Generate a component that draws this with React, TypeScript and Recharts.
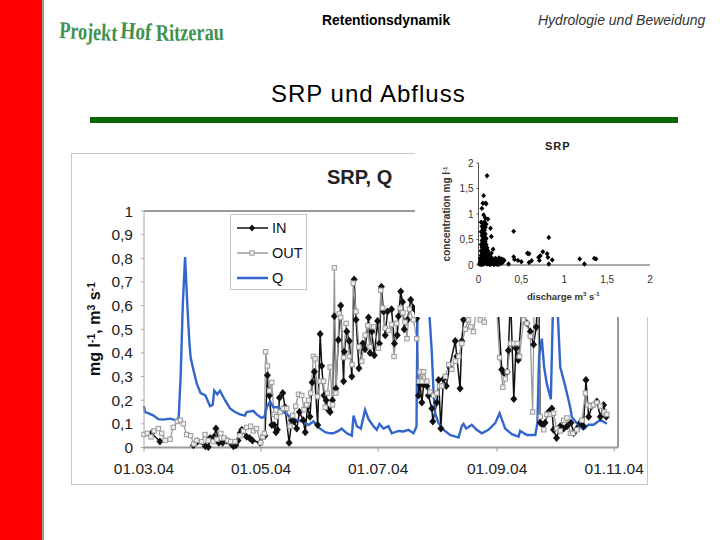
import React from "react";
import {
  ComposedChart, Line, XAxis, YAxis, ReferenceLine, Legend,
  ScatterChart, Scatter,
} from "recharts";

const FONT = "'Liberation Sans', Arial, sans-serif";
const AXIS_GREY = "#9a9a9a";

const xTickDays = [0, 61, 122, 184, 245];
const xTickLabels = ["01.03.04", "01.05.04", "01.07.04", "01.09.04", "01.11.04"];
const yTicks = [0, 0.1, 0.2, 0.3, 0.4, 0.5, 0.6, 0.7, 0.8, 0.9, 1];

const inDays = [4, 8.3, null, 25.7, 28, 32, 33.5, 34.4, 36.5, 37.5, 39, 41, 43, 45, 46.6, 47.8, 49, 50, 51, 53.5, 55, 56.5, 60.5, 63, 64.3, 65.3, 66.6, 67.8, 68.8, 69.5, 70.6, 72.3, 73.5, 75.6, 77, 78.2, 79.6, 81, 83, 84, 85.2, 86.5, 87.6, 88.8, 90.5, 91.8, 92.6, 93.8, 94.9, 96, 97, 98.2, 99.2, 100, 101.3, 102.5, 104, 104.4, 105.7, 107, 108.3, 109.5, 110.5, 112, 114, 115.2, 117, 117.8, 118.7, 120, 121.7, 122.7, 123.7, 124.8, 125.7, 126.9, 129, 130.5, 132, 132.6, 133.8, 134.7, 135.6, 137.3, 139, 140.4, 142.1, 143, 143.9, 144.8, 145.7, 147.4, 148.2, 150, 150.5, 152.6, 153.5, 154.7, 156, 157.5, 159.2, 162.2, 163, 164.7, 165.6, 166.5, 169, 172, 175, 178, 181, 184, 186.4, 187.6, 189.3, 189.9, 191, 192.7, 193.8, 195, 197, 199.5, 201.3, 203, 204.4, 205.6, 206.5, 207.8, 209, 210.8, 212.5, 213.4, 215, 216.9, 218.7, 220.4, 222.5, 223.9, 225.6, 227.3, 229, 230.3, 231.7, 233.4, 236, 237.8, 239.5, 240.9];
const inValues = [0.06, 0.025, null, 0.01, 0.025, 0.005, 0.002, 0.04, 0.045, 0.08, 0.02, 0.02, 0.03, 0.02, 0.005, 0.01, 0.03, 0.06, 0.075, 0.045, 0.04, 0.03, 0.02, 0.05, 0.305, 0.22, 0.095, 0.095, 0.065, 0.075, 0.21, 0.23, 0.17, 0.02, 0.115, 0.11, 0.08, 0.15, 0.115, 0.065, 0.17, 0.13, 0.275, 0.32, 0.095, 0.48, 0.345, 0.22, 0.2, 0.16, 0.15, 0.2, 0.555, 0.25, 0.455, 0.6, 0.28, 0.405, 0.49, 0.45, 0.3, 0.71, 0.54, 0.335, 0.44, 0.415, 0.55, 0.4, 0.49, 0.39, 0.535, 0.44, 0.68, 0.575, 0.475, 0.575, 0.585, 0.44, 0.475, 0.555, 0.66, 0.615, 0.5, 0.54, 0.625, 0.59, 0.545, 0.22, 0.265, 0.19, 0.265, 0.26, 0.22, 0.165, 0.11, 0.19, 0.285, 0.08, 0.29, 0.26, 0.34, 0.45, 0.385, 0.25, 0.45, 0.54, 0.68, 0.72, 0.65, 0.7, 0.75, 0.66, 0.33, 0.315, 0.32, 0.41, 0.65, 0.205, 0.42, 0.37, 0.6, 0.525, 0.49, 0.435, 0.51, 0.7, 0.105, 0.095, 0.105, 0.15, 0.165, 0.075, 0.04, 0.09, 0.08, 0.09, 0.105, 0.06, 0.08, 0.105, 0.09, 0.285, 0.13, 0.175, 0.195, 0.13, 0.18, 0.13];

const outDays = [0, 1.7, 3.6, 5.2, 7.5, 9.2, 11, 13.6, 15.3, 17.4, 19, 20.5, 22.2, 24.3, 26, 27.5, 30, 31.8, 33.5, 36, 38, 40, 41.7, 43.6, 45.2, 47.4, 50, 51.8, 53.5, 55.6, 57, 58.7, 60.8, 61.9, 62.7, 63.4, 64.3, 65.3, 66.6, 67.8, 69, 70.9, 72.6, 74.4, 76.1, 77.5, 79, 80.5, 82.2, 83.4, 84.8, 85.7, 86.9, 88.3, 89.2, 90.4, 91.8, 93.5, 94.4, 95.6, 97, 98.2, 99.2, 100, 101.7, 102.5, 104, 105.3, 107, 108.4, 109, 110.5, 112, 113.5, 115.2, 116.6, 117.8, 119.6, 122.2, 123.4, 124.4, 125.7, 127.4, 129, 130.3, 131.7, 133.5, 134.9, 136, 137, 138.3, 140.4, 142.1, 143.4, 143.9, 144.8, 145.7, 147.4, 149.1, 150.9, 152.6, 154, 155.2, 157, 158.8, 160.4, 162.2, 164, 165.6, 167.4, 169.1, 170.3, 171.7, 173.4, 175.2, 177.3, 180, 183, 185.3, 187, 188.3, 189.3, 191, 192.7, 194.5, 195.7, 197.8, 199.5, 201.3, 202.5, 203.3, 205, 206.5, 208.3, 210, 211.8, 213.4, 215, 216.9, 218.7, 220.4, 222.2, 223.5, 225.6, 228.2, 230, 231.2, 232.6, 234.3, 236, 237.8, 239.8, 241.2];
const outValues = [0.055, 0.06, 0.045, 0.07, 0.08, 0.06, 0.03, 0.035, 0.085, 0.11, 0.115, 0.1, 0.055, 0.05, 0.015, 0.03, 0.025, 0.055, 0.03, 0.025, 0.035, 0.06, 0.04, 0.03, 0.025, 0.025, 0.05, 0.07, 0.085, 0.09, 0.07, 0.08, 0.02, 0.045, 0.06, 0.405, 0.345, 0.24, 0.275, 0.14, 0.13, 0.15, 0.165, 0.165, 0.09, 0.135, 0.175, 0.225, 0.22, 0.16, 0.18, 0.2, 0.23, 0.385, 0.375, 0.215, 0.28, 0.28, 0.17, 0.23, 0.34, 0.18, 0.76, 0.23, 0.565, 0.55, 0.38, 0.525, 0.385, 0.35, 0.695, 0.575, 0.425, 0.365, 0.475, 0.515, 0.425, 0.51, 0.42, 0.665, 0.59, 0.505, 0.495, 0.52, 0.385, 0.525, 0.59, 0.57, 0.53, 0.46, 0.585, 0.54, 0.46, 0.28, 0.32, 0.28, 0.32, 0.28, 0.235, 0.22, 0.23, 0.26, 0.26, 0.3, 0.35, 0.33, 0.365, 0.385, 0.44, 0.5, 0.54, 0.51, 0.49, 0.6, 0.54, 0.53, 0.65, 0.7, 0.38, 0.255, 0.29, 0.32, 0.44, 0.44, 0.44, 0.385, 0.54, 0.525, 0.47, 0.15, 0.6, 0.65, 0.13, 0.075, 0.14, 0.14, 0.145, 0.08, 0.07, 0.115, 0.125, 0.06, 0.06, 0.075, 0.115, 0.23, 0.18, 0.175, 0.18, 0.19, 0.175, 0.15, 0.14];

const qDays = [0, 0.5, 2.2, 5, 7.5, 10, 13.6, 17, 18.1, 19.1, 20.2, 21.4, 22.6, 23.6, 24.3, 25.7, 27.5, 29.5, 32, 34.4, 35.8, 36.6, 38.2, 39.6, 42.2, 44.8, 47.4, 50, 52.6, 53.5, 57, 58.7, 61.3, 62.7, 64, 65.7, 67.4, 70, 72.6, 76.1, 79.6, 83, 85.7, 88.3, 90.9, 94.4, 97, 98.7, 101.3, 103, 105.7, 108.3, 109.2, 110.9, 113, 115.2, 117, 119.6, 121.3, 122.7, 124.8, 127.4, 129.1, 132.6, 135.2, 137.8, 140.4, 141.6, 142, 142.5, 143.5, 146, 148.8, 150, 150.9, 151.7, 153.5, 156, 159.5, 163.9, 165.6, 166.5, 167.9, 170.8, 173.4, 176, 179.5, 183, 185.3, 188.2, 191.7, 195.2, 196, 199.5, 203.9, 205, 205.9, 207.3, 208.5, 209.9, 212, 213, 214.3, 215.7, 216.9, 219.5, 222, 222.9, 225.5, 229, 231.6, 234.3, 237.8, 241.2];
const qValues = [0.175, 0.15, 0.145, 0.135, 0.12, 0.118, 0.122, 0.115, 0.13, 0.3, 0.6, 0.805, 0.6, 0.45, 0.38, 0.33, 0.27, 0.23, 0.22, 0.175, 0.18, 0.24, 0.225, 0.24, 0.2, 0.165, 0.15, 0.14, 0.135, 0.15, 0.155, 0.14, 0.125, 0.13, 0.17, 0.195, 0.17, 0.17, 0.15, 0.13, 0.115, 0.11, 0.095, 0.11, 0.085, 0.065, 0.06, 0.06, 0.07, 0.08, 0.06, 0.05, 0.135, 0.09, 0.08, 0.16, 0.12, 0.09, 0.075, 0.1, 0.08, 0.09, 0.06, 0.07, 0.068, 0.075, 0.06, 0.08, 0.09, 0.55, 0.8, 0.75, 0.555, 0.4, 0.23, 0.145, 0.103, 0.075, 0.053, 0.042, 0.09, 0.1, 0.08, 0.096, 0.075, 0.06, 0.075, 0.103, 0.145, 0.08, 0.056, 0.046, 0.07, 0.053, 0.053, 0.103, 0.385, 0.46, 0.34, 0.27, 0.204, 0.555, 0.9, 0.555, 0.34, 0.26, 0.173, 0.13, 0.103, 0.077, 0.096, 0.096, 0.117, 0.1];

const scatterX = [0.1, 0.06, 0.05, 0.08, 0.09, 0.04, 0.06, 0.08, 0.11, 0.41, 0.82, 0.57, 0.59, 0.41, 0.42, 0.46, 0.5, 0.59, 0.62, 0.7, 0.72, 0.71, 0.75, 0.8, 0.81, 0.82, 0.86, 1.18, 1.235, 1.35, 1.37, 0.35, 0.14, 0.15, 0.17, 0.15,
  0.03, 0.05, 0.07, 0.09, 0.04, 0.06, 0.08, 0.05, 0.07, 0.03, 0.06, 0.08, 0.04, 0.05, 0.07, 0.09, 0.06, 0.04, 0.08, 0.05, 0.07, 0.03, 0.06, 0.09, 0.04, 0.07, 0.05, 0.08, 0.1, 0.03, 0.06, 0.04, 0.09, 0.05, 0.07, 0.11, 0.03, 0.06, 0.08, 0.04, 0.12, 0.02, 0.05, 0.07, 0.1, 0.03, 0.06, 0.09, 0.13, 0.02, 0.04, 0.08, 0.05, 0.11, 0.07, 0.01, 0.03, 0.14, 0.09, 0.06, 0.02, 0.12, 0.04, 0.1,
  0.13, 0.15, 0.17, 0.19, 0.21, 0.23, 0.25, 0.27, 0.29, 0.16, 0.18, 0.2, 0.22, 0.24, 0.26, 0.28, 0.14, 0.17, 0.19, 0.21, 0.23, 0.12, 0.15, 0.18, 0.2, 0.24, 0.3, 0.13, 0.16];
const scatterY = [1.75, 1.36, 1.21, 1.21, 1.2, 1.11, 0.98, 0.92, 0.9, 0.66, 0.54, 0.23, 0.22, 0.16, 0.11, 0.09, 0.065, 0.05, 0.085, 0.15, 0.18, 0.09, 0.26, 0.22, 0.15, 0.02, 0.1, 0.12, 0.02, 0.13, 0.12, 0.02, 0.72, 0.56, 0.31, 0.23,
  0.84, 0.82, 0.85, 0.8, 0.76, 0.78, 0.74, 0.71, 0.68, 0.65, 0.63, 0.61, 0.58, 0.55, 0.56, 0.52, 0.5, 0.48, 0.46, 0.44, 0.42, 0.4, 0.38, 0.4, 0.35, 0.33, 0.31, 0.32, 0.34, 0.28, 0.27, 0.25, 0.26, 0.22, 0.23, 0.28, 0.19, 0.18, 0.2, 0.15, 0.22, 0.13, 0.12, 0.14, 0.16, 0.1, 0.09, 0.11, 0.18, 0.07, 0.06, 0.08, 0.04, 0.1, 0.03, 0.02, 0.01, 0.13, 0.05, 0.02, 0.04, 0.06, 0.01, 0.02,
  0.13, 0.15, 0.1, 0.12, 0.09, 0.11, 0.08, 0.12, 0.1, 0.06, 0.05, 0.07, 0.04, 0.06, 0.03, 0.05, 0.08, 0.03, 0.02, 0.02, 0.01, 0.04, 0.02, 0.01, 0.13, 0.14, 0.09, 0.01, 0.04];

const zip = (xs: (number | null)[], ys: (number | null)[], key: string) =>
  xs.map((x, i) => ({ day: x, [key]: ys[i] }));
const inData = zip(inDays, inValues, "inVal").map((d) => ({ ...d, day: d.day ?? 16 }));
const outData = zip(outDays, outValues, "outVal");
const qData = zip(qDays, qValues, "q");
const scatterData = scatterX.map((x, i) => ({ x, y: scatterY[i] }));

const Diamond = (props: any) => {
  const { cx, cy, payload } = props;
  if (cx == null || cy == null || payload?.inVal == null) return <g />;
  return <path d={`M${cx} ${cy - 4}L${cx + 3.5} ${cy}L${cx} ${cy + 4}L${cx - 3.5} ${cy}Z`} fill="#111" />;
};
const Square = (props: any) => {
  const { cx, cy } = props;
  if (cx == null || cy == null) return <g />;
  return <rect x={cx - 2.2} y={cy - 2.2} width={4.4} height={4.4} fill="#eeeeee" stroke="#9a9a9a" strokeWidth={1} />;
};
const SmallDiamond = (props: any) => {
  const { cx, cy } = props;
  if (cx == null || cy == null) return <g />;
  return <path d={`M${cx} ${cy - 2.7}L${cx + 2.4} ${cy}L${cx} ${cy + 2.7}L${cx - 2.4} ${cy}Z`} fill="#000" />;
};

const LegendBox = () => (
  <div style={{ width: 77, height: 76, boxSizing: "border-box", background: "#fff", border: "1px solid #c4c4c4" }}>
    <svg width={75} height={74} style={{ display: "block" }}>
      <line x1={6} x2={37} y1={13} y2={13} stroke="#111" strokeWidth={1.5} />
      <path d="M21 9.5L24 13L21 16.5L18 13Z" fill="#111" />
      <text x={41} y={18} fontFamily={FONT} fontSize={14.5} fill="#111">IN</text>
      <line x1={6} x2={37} y1={38} y2={38} stroke="#9a9a9a" strokeWidth={1.5} />
      <rect x={18.8} y={35.8} width={4.4} height={4.4} fill="#eee" stroke="#9a9a9a" />
      <text x={41} y={43} fontFamily={FONT} fontSize={14.5} fill="#111">OUT</text>
      <line x1={6} x2={37} y1={63} y2={63} stroke="#3366cc" strokeWidth={2.5} />
      <text x={41} y={68} fontFamily={FONT} fontSize={14.5} fill="#111">Q</text>
    </svg>
  </div>
);

const YTitle = () => (
  <text transform="translate(100 329) rotate(-90)" textAnchor="middle" fontFamily={FONT} fontSize={16} fontWeight={700} fill="#111">
    mg l<tspan dy={-5} fontSize={10.5}>-1</tspan><tspan dy={5}>, m</tspan><tspan dy={-5} fontSize={10.5}>3</tspan><tspan dy={5}> s</tspan><tspan dy={-5} fontSize={10.5}>-1</tspan>
  </text>
);

const abs = (left: number, top: number, extra: React.CSSProperties = {}): React.CSSProperties => ({
  position: "absolute", left, top, whiteSpace: "nowrap", fontFamily: FONT, ...extra,
});

export default function App() {
  return (
    <div style={{ position: "absolute", left: 0, top: 0, width: 720, height: 540, background: "#fff", overflow: "hidden" }}>
      <div style={abs(0, 0, { width: 42, height: 540, background: "#ff0000" })} />
      <div style={abs(42, 0, { width: 2, height: 540, background: "#a09a9a" })} />

      <svg style={abs(50, 12)} width={250} height={44}>
        <g fontFamily="'Liberation Serif', serif" fontWeight={700} fill="#3f9150" fontSize={24}>
          <text transform="translate(9 26) rotate(3)" textLength={58} lengthAdjust="spacingAndGlyphs">Projekt</text>
          <text transform="translate(70 26) rotate(4)" textLength={31} lengthAdjust="spacingAndGlyphs">Hof</text>
          <text transform="translate(106 29) rotate(-1)" textLength={68} lengthAdjust="spacingAndGlyphs">Ritzerau</text>
        </g>
      </svg>

      <div style={abs(322, 12, { fontSize: 13.9, fontWeight: 700, color: "#000" })}>Retentionsdynamik</div>
      <div style={abs(538, 12, { fontSize: 14, fontStyle: "italic", color: "#333" })}>Hydrologie und Beweidung</div>
      <div style={abs(271, 80, { fontSize: 24, letterSpacing: 1, color: "#000" })}>SRP und Abfluss</div>
      <div style={abs(90, 117, { width: 588, height: 6, background: "#056405" })} />

      <div style={abs(71, 153, { width: 577, height: 332, boxSizing: "border-box", border: "1.5px solid #c8c8c8" })} />
      <div style={abs(327, 166, { fontSize: 20, fontWeight: 700, color: "#222" })}>SRP, Q</div>

      <div style={abs(0, 0)}>
        <ComposedChart width={720} height={540} margin={{ top: 211, left: 84, right: 102, bottom: 62.5 }}>
          <XAxis
            xAxisId="x" type="number" dataKey="day" domain={[0, 247]} ticks={xTickDays} height={30}
            tickFormatter={(v: number) => xTickLabels[xTickDays.indexOf(v)]}
            tick={{ fontFamily: FONT, fontSize: 15.5, fill: "#222" }} tickSize={4} tickMargin={11}
            axisLine={{ stroke: AXIS_GREY, strokeWidth: 2 }} tickLine={{ stroke: AXIS_GREY }} interval={0}
          />
          <YAxis
            yAxisId="y" type="number" domain={[0, 1]} ticks={yTicks} width={60} interval={0}
            tickFormatter={(v: number) => String(v).replace(".", ",")}
            tick={{ fontFamily: FONT, fontSize: 15.5, fill: "#222" }} tickSize={3} tickMargin={8}
            axisLine={{ stroke: "#a8a8a8", strokeWidth: 1 }} tickLine={{ stroke: "#a8a8a8" }}
          />
          <ReferenceLine xAxisId="x" yAxisId="y" y={1} stroke={AXIS_GREY} strokeWidth={2} />
          <ReferenceLine xAxisId="x" yAxisId="y" x={247} stroke={AXIS_GREY} strokeWidth={2} />
          <Legend
            layout="vertical" align="center" verticalAlign="middle" content={<LegendBox />}
            wrapperStyle={{ left: 229.5, top: 214, width: 77, height: 76 }}
          />
          <Line xAxisId="x" yAxisId="y" data={inData} dataKey="inVal" name="IN" stroke="#111" strokeWidth={1.5} dot={<Diamond />} isAnimationActive={false} legendType="diamond" />
          <Line xAxisId="x" yAxisId="y" data={outData} dataKey="outVal" name="OUT" stroke="#9a9a9a" strokeWidth={1.3} dot={<Square />} isAnimationActive={false} legendType="square" />
          <Line xAxisId="x" yAxisId="y" data={qData} dataKey="q" name="Q" stroke="#3366cc" strokeWidth={2.4} dot={false} isAnimationActive={false} />
        </ComposedChart>
      </div>
      <svg style={abs(0, 0, { pointerEvents: "none" })} width={720} height={540}><YTitle /></svg>

      <div style={abs(415, 140, { width: 240, height: 177, background: "#fff" })}>
        <ScatterChart width={240} height={177} margin={{ top: 23, left: 33.5, right: 5, bottom: 32 }}>
          <XAxis
            type="number" dataKey="x" domain={[0, 2]} ticks={[0, 0.5, 1, 1.5, 2]} height={20} interval={0}
            tickFormatter={(v: number) => String(v).replace(".", ",")}
            tick={{ fontFamily: FONT, fontSize: 10, fill: "#333" }} tickSize={0} tickMargin={11}
            axisLine={{ stroke: "#555", strokeWidth: 1 }} tickLine={false}
          />
          <YAxis
            type="number" dataKey="y" domain={[0, 2]} ticks={[0, 0.5, 1, 1.5, 2]} width={30} interval={0}
            tickFormatter={(v: number) => String(v).replace(".", ",")}
            tick={{ fontFamily: FONT, fontSize: 10, fill: "#333" }} tickSize={2} tickMargin={3}
            axisLine={{ stroke: "#555", strokeWidth: 1 }} tickLine={{ stroke: "#555" }}
          />
          <Scatter data={scatterData} fill="#000" shape={<SmallDiamond />} isAnimationActive={false} />
        </ScatterChart>
        <div style={abs(130, 0, { fontSize: 11, fontWeight: 700, letterSpacing: 1, color: "#222" })}>SRP</div>
        <div style={abs(112, 151, { fontSize: 9.5, fontWeight: 700, color: "#333" })}>
          discharge m<sup style={{ fontSize: 6 }}>3</sup> s<sup style={{ fontSize: 6 }}>-1</sup>
        </div>
        <svg style={abs(0, 0)} width={60} height={140}>
          <text transform="translate(35 74) rotate(-90)" textAnchor="middle" fontFamily={FONT} fontSize={10} fontWeight={700} fill="#333">
            concentration mg l<tspan dy={-3} fontSize={6}>-1</tspan>
          </text>
        </svg>
      </div>
    </div>
  );
}
